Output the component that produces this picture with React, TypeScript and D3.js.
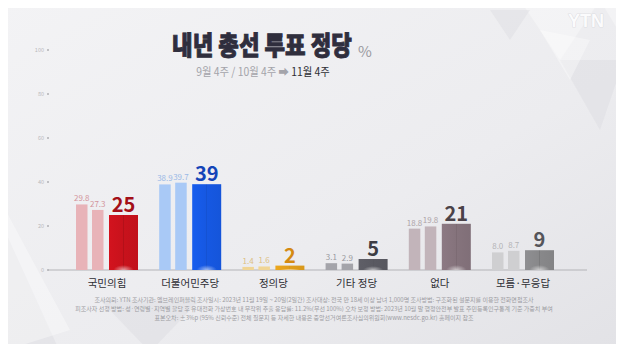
import { useRef, useEffect } from 'react';
import * as d3 from 'd3';

const parties = ['국민의힘', '더불어민주당', '정의당', '기타 정당', '없다', '모름·무응답'];
const sepWeek = [29.8, 38.9, 1.4, 3.1, 18.8, 8.0];
const octWeek = [27.3, 39.7, 1.6, 2.9, 19.8, 8.7];
const novWeek = [25, 39, 2, 5, 21, 9];
const yTicks = [0, 20, 40, 60, 80, 100];

const lightColors = ['#e8b3b8', '#a9c9f6', '#f0d595', '#a4a4aa', '#c2b4ba', '#cfcfd1'];
const darkColors = ['#c8121c', '#1658e2', '#e09e1c', '#5a5a62', '#85737c', '#88888a'];
const smallText = ['#d3959c', '#9bb9e6', '#dcc082', '#9a9aa0', '#aea4a8', '#b4b4b6'];
const bigText = ['#a30f18', '#1444b8', '#d48a12', '#3c3c44', '#4a4248', '#55555a'];

const footnotes = [
    '조사의뢰: YTN      조사기관: 엠브레인퍼블릭      조사일시: 2023년 11월 19일 ~ 20일(2일간)      조사대상: 전국 만 18세 이상 남녀 1,000명      조사방법: 구조화된 설문지를 이용한 전화면접조사',
    '피조사자 선정 방법: 성·연령별·지역별 할당 후 유대전화 가상번호 내 무작위 추출      응답률: 11.2%(무선 100%)      오차 보정 방법: 2023년 10월 말 행정안전부 발표 주민등록인구통계 기준 가중치 부여',
    '표본오차: ±3%p (95% 신뢰수준)      전체 질문지 등 자세한 내용은 중앙선거여론조사심의위원회(www.nesdc.go.kr) 홈페이지 참조',
];

const FONT = '"Noto Sans CJK KR", "Noto Sans", sans-serif';

export default function App() {
    const svgRef = useRef<SVGSVGElement>(null);

    useEffect(() => {
        if (!svgRef.current) return;
        const width = 624;
        const height = 352;
        const svg = d3.select(svgRef.current);
        svg.selectAll('*').remove();

        const defs = svg.append('defs');
        const bg = defs.append('linearGradient').attr('id', 'bg')
            .attr('x1', '0%').attr('y1', '0%').attr('x2', '100%').attr('y2', '100%');
        bg.append('stop').attr('offset', '0%').attr('stop-color', '#f3f3f5');
        bg.append('stop').attr('offset', '60%').attr('stop-color', '#ececef');
        bg.append('stop').attr('offset', '100%').attr('stop-color', '#e2e2e6');

        svg.append('rect').attr('width', width).attr('height', height).attr('fill', 'url(#bg)');

        // faint triangles in the background
        const tris = [
            [[0, 220], [60, 352], [-60, 352]],
            [[0, 200], [70, 330], [0, 352]],
            [[150, 352], [100, 300], [200, 300]],
            [[520, 0], [560, 60], [600, 0]],
            [[560, 60], [624, 60], [600, 130]],
            [[600, 0], [624, 40], [624, 0]],
            [[490, 10], [510, 40], [530, 10]],
            [[540, 30], [570, 80], [590, 40]],
        ];
        svg.append('g').selectAll('polygon').data(tris).enter().append('polygon')
            .attr('points', d => d.map(p => p.join(',')).join(' '))
            .attr('fill', (_, i) => (i % 2 ? '#ffffff' : '#d8d8dc'))
            .attr('opacity', 0.35);

        const y = d3.scaleLinear().domain([0, 100]).range([270, 50]);
        const x = d3.scalePoint<string>().domain(parties).range([107, 523]);

        // series offsets within a group: [left offset, width]
        const sub = d3.scaleOrdinal<number, [number, number]>()
            .domain([0, 1, 2])
            .range([[-31, 11.5], [-15, 11.5], [2, 29]]);

        // y ticks
        const yAxis = svg.append('g');
        yAxis.selectAll('text').data(yTicks).enter().append('text')
            .attr('x', 44).attr('y', d => y(d) + 2)
            .attr('text-anchor', 'end')
            .attr('font-family', FONT).attr('font-size', 5.5)
            .attr('fill', '#b9b9bd')
            .text(d => d);
        yAxis.selectAll('circle').data(yTicks).enter().append('circle')
            .attr('cx', 48).attr('cy', d => y(d)).attr('r', 1)
            .attr('fill', '#b0b0b4');

        // baseline
        svg.append('line')
            .attr('x1', 48).attr('x2', 587)
            .attr('y1', y(0)).attr('y2', y(0))
            .attr('stroke', '#b4b4b8').attr('stroke-width', 1.2);

        // gradients for the big bars
        darkColors.forEach((c, i) => {
            const g = defs.append('linearGradient').attr('id', `hg${i}`)
                .attr('x1', '0%').attr('x2', '100%').attr('y1', '0%').attr('y2', '0%');
            const col = d3.color(c)!;
            g.append('stop').attr('offset', '0%').attr('stop-color', col.brighter(0.15).toString());
            g.append('stop').attr('offset', '48%').attr('stop-color', c);
            g.append('stop').attr('offset', '50%').attr('stop-color', col.darker(0.3).toString());
            g.append('stop').attr('offset', '52%').attr('stop-color', c);
            g.append('stop').attr('offset', '100%').attr('stop-color', col.darker(0.1).toString());
        });
        const glow = defs.append('radialGradient').attr('id', 'glow')
            .attr('cx', '50%').attr('cy', '100%').attr('r', '35%');
        glow.append('stop').attr('offset', '0%').attr('stop-color', '#ffffff').attr('stop-opacity', 0.6);
        glow.append('stop').attr('offset', '100%').attr('stop-color', '#ffffff').attr('stop-opacity', 0);

        const series = [sepWeek, octWeek, novWeek];
        const bars = svg.append('g');

        parties.forEach((p, i) => {
            const cx = x(p)!;
            series.forEach((vals, s) => {
                const [off, w] = sub(s);
                const v = vals[i];
                const top = y(v);
                if (s < 2) {
                    bars.append('rect')
                        .attr('x', cx + off).attr('y', top)
                        .attr('width', w).attr('height', y(0) - top)
                        .attr('fill', lightColors[i]);
                    bars.append('text')
                        .attr('x', cx + off + w / 2).attr('y', top - 3)
                        .attr('text-anchor', 'middle')
                        .attr('font-family', FONT).attr('font-size', 8)
                        .attr('fill', smallText[i])
                        .text(v.toFixed(1));
                } else {
                    bars.append('rect')
                        .attr('x', cx + off).attr('y', top)
                        .attr('width', w).attr('height', y(0) - top)
                        .attr('fill', `url(#hg${i})`);
                    const gh = Math.min(y(0) - top, 14);
                    bars.append('rect')
                        .attr('x', cx + off).attr('y', y(0) - gh)
                        .attr('width', w).attr('height', gh)
                        .attr('fill', 'url(#glow)');
                    bars.append('text')
                        .attr('x', cx + off + w / 2).attr('y', top - 3)
                        .attr('text-anchor', 'middle')
                        .attr('font-family', FONT).attr('font-size', 20).attr('font-weight', 700)
                        .attr('fill', bigText[i])
                        .text(v);
                }
            });
            // category label
            svg.append('text')
                .attr('x', cx).attr('y', 287)
                .attr('text-anchor', 'middle')
                .attr('font-family', FONT).attr('font-size', 10.5)
                .attr('fill', '#2e2e34')
                .text(p);
        });

        // Title (condensed horizontally like the broadcast font)
        svg.append('text')
            .attr('transform', 'translate(262,55) scale(0.86,1)')
            .attr('text-anchor', 'middle')
            .attr('font-family', FONT).attr('font-size', 26).attr('font-weight', 900)
            .attr('fill', '#2f2e3d')
            .attr('stroke', '#2f2e3d').attr('stroke-width', 0.9)
            .text('내년 총선 투표 정당');
        svg.append('text')
            .attr('x', 358).attr('y', 57)
            .attr('font-family', FONT).attr('font-size', 15)
            .attr('fill', '#9a9aa0')
            .text('%');

        const subT = svg.append('text')
            .attr('transform', 'translate(263,76) scale(0.9,1)')
            .attr('text-anchor', 'middle')
            .attr('font-family', FONT).attr('font-size', 11.5);
        subT.append('tspan').attr('fill', '#a4a4aa').text('9월 4주 / 10월 4주 ➡ ');
        subT.append('tspan').attr('fill', '#2e2e34').text('11월 4주');

        // logo
        svg.append('text')
            .attr('x', 586).attr('y', 27)
            .attr('text-anchor', 'middle')
            .attr('font-family', '"Liberation Sans", Arial, sans-serif')
            .attr('font-size', 18).attr('font-weight', 700)
            .attr('fill', '#fbfbfc')
            .attr('stroke', '#cfcfd4').attr('stroke-width', 0.6).attr('paint-order', 'stroke')
            .text('YTN');

        // footnotes
        svg.append('g').selectAll('text').data(footnotes).enter().append('text')
            .attr('x', 314).attr('y', (_, i) => 302 + i * 9)
            .attr('text-anchor', 'middle')
            .attr('font-family', FONT).attr('font-size', 6)
            .attr('fill', '#9c9ca2')
            .text(d => d);
    }, []);

    return (
        <div style={{ margin: -8 }}>
            <svg ref={svgRef} width={624} height={352} style={{ display: 'block' }} />
        </div>
    );
}
